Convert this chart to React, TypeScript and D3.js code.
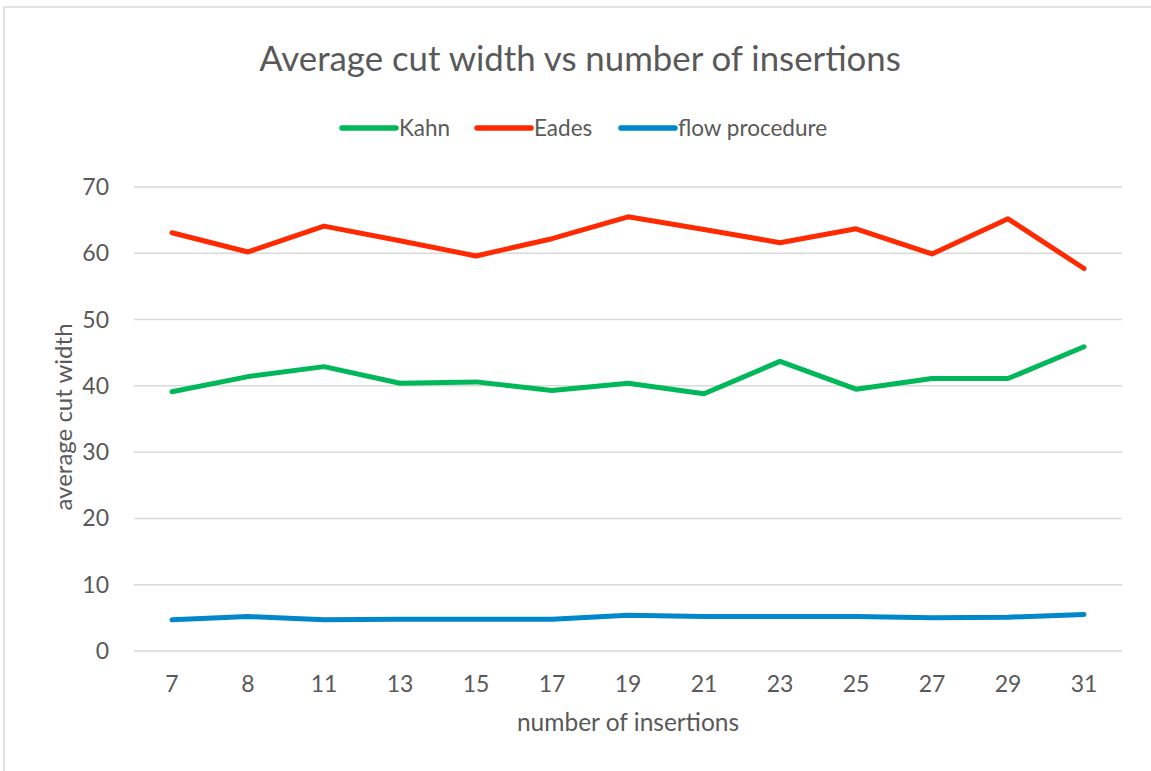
import * as d3 from 'd3';

const insertions = ['7', '8', '11', '13', '15', '17', '19', '21', '23', '25', '27', '29', '31'];
const kahn = [39.1, 41.4, 42.9, 40.4, 40.6, 39.3, 40.4, 38.8, 43.7, 39.5, 41.1, 41.1, 45.9];
const eades = [63.1, 60.2, 64.1, 61.9, 59.6, 62.2, 65.5, 63.6, 61.6, 63.7, 59.9, 65.2, 57.7];
const flow = [4.7, 5.2, 4.7, 4.8, 4.8, 4.8, 5.4, 5.2, 5.2, 5.2, 5.0, 5.1, 5.5];
const yTicks = [0, 10, 20, 30, 40, 50, 60, 70];

const series = [
  { name: 'Kahn', values: kahn, color: '#00B85A' },
  { name: 'Eades', values: eades, color: '#FF2A00' },
  { name: 'flow procedure', values: flow, color: '#0088CC' },
];

const W = 1151;
const H = 771;
const plot = { left: 134, right: 1122, top: 187, bottom: 651 };
const font = 'Lato, "Noto Sans", sans-serif';
const textColor = '#595959';

export default function App() {
  const x = d3
    .scaleBand<string>()
    .domain(insertions)
    .range([plot.left, plot.right]);
  const y = d3.scaleLinear().domain([0, 70]).range([plot.bottom, plot.top]);

  const line = d3
    .line<number>()
    .x((_, i) => (x(insertions[i]) ?? 0) + x.bandwidth() / 2)
    .y((d) => y(d));

  // legend positions (line start)
  const legendX = [342, 477, 621];

  return (
    <svg
      width={W}
      height={H}
      style={{ position: 'absolute', left: 0, top: 0, background: '#fff' }}
      fontFamily={font}
    >
      <rect x={4} y={7} width={W + 20} height={H + 20} fill="#fff" stroke="#D9D9D9" strokeWidth={1.5} />

      <text x={580} y={71} textAnchor="middle" fontSize={34.8} fill={textColor}>
        Average cut width vs number of insertions
      </text>

      {series.map((s, i) => (
        <g key={s.name}>
          <line
            x1={legendX[i]}
            x2={legendX[i] + 54}
            y1={128}
            y2={128}
            stroke={s.color}
            strokeWidth={5.5}
            strokeLinecap="round"
          />
          <text x={legendX[i] + 57} y={136} fontSize={22.5} fill={textColor}>
            {s.name}
          </text>
        </g>
      ))}

      {yTicks.map((t) => (
        <g key={t}>
          <line x1={plot.left} x2={plot.right} y1={y(t)} y2={y(t)} stroke="#D9D9D9" strokeWidth={1.5} />
          <text x={109} y={y(t) + 8} textAnchor="end" fontSize={23} fill={textColor}>
            {t}
          </text>
        </g>
      ))}

      {insertions.map((c) => (
        <text
          key={c}
          x={(x(c) ?? 0) + x.bandwidth() / 2}
          y={692}
          textAnchor="middle"
          fontSize={23}
          fill={textColor}
        >
          {c}
        </text>
      ))}

      <text x={628} y={731} textAnchor="middle" fontSize={24.5} fill={textColor}>
        number of insertions
      </text>
      <text
        transform={`translate(72, 417) rotate(-90)`}
        textAnchor="middle"
        fontSize={24}
        fill={textColor}
      >
        average cut width
      </text>

      {series.map((s) => (
        <path
          key={s.name}
          d={line(s.values) ?? ''}
          fill="none"
          stroke={s.color}
          strokeWidth={5}
          strokeLinejoin="round"
          strokeLinecap="round"
        />
      ))}
    </svg>
  );
}
